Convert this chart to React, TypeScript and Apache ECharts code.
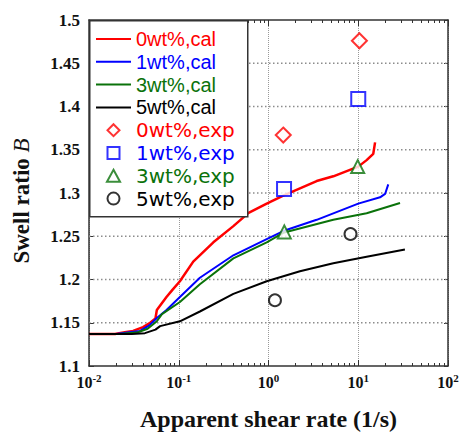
import React, { useEffect, useRef } from "react";
import * as echarts from "echarts";

// ---- data ----
const rate0Cal = [0.01, 0.0195, 0.025, 0.031, 0.04, 0.048, 0.055, 0.057, 0.073, 0.085, 0.103, 0.145, 0.243, 0.406, 0.6, 0.955, 1.46, 3.44, 5.27, 10.0, 12.4, 14.7, 15.4];
const swell0Cal = [1.137, 1.137, 1.139, 1.1406, 1.145, 1.15, 1.155, 1.1648, 1.1797, 1.188, 1.198, 1.2207, 1.243, 1.2617, 1.277, 1.2877, 1.297, 1.3138, 1.3193, 1.3305, 1.338, 1.3453, 1.3585];

const rate1Cal = [0.01, 0.02, 0.028, 0.037, 0.047, 0.057, 0.073, 0.103, 0.172, 0.406, 0.955, 1.46, 3.44, 10.0, 17.5, 19.9, 21.6];
const swell1Cal = [1.137, 1.137, 1.139, 1.1406, 1.147, 1.1555, 1.1648, 1.1797, 1.202, 1.228, 1.2467, 1.256, 1.269, 1.2877, 1.295, 1.2989, 1.31];

const rate3Cal = [0.01, 0.022, 0.035, 0.045, 0.057, 0.065, 0.103, 0.172, 0.406, 0.955, 1.46, 5.27, 12.4, 29.2];
const swell3Cal = [1.137, 1.137, 1.139, 1.143, 1.1517, 1.16, 1.174, 1.1946, 1.2244, 1.243, 1.254, 1.269, 1.2765, 1.2885];

const rate5Cal = [0.01, 0.03, 0.042, 0.055, 0.062, 0.103, 0.172, 0.406, 0.955, 2.24, 5.27, 12.4, 33.1];
const swell5Cal = [1.137, 1.137, 1.138, 1.142, 1.1461, 1.1517, 1.163, 1.1834, 1.198, 1.2095, 1.2188, 1.2263, 1.2348];

const rate0Exp = [1.46, 10.3];
const swell0Exp = [1.367, 1.476];
const rate1Exp = [1.49, 10.0];
const swell1Exp = [1.3045, 1.4087];
const rate3Exp = [1.5, 9.86];
const swell3Exp = [1.255, 1.3305];
const rate5Exp = [1.18, 8.2];
const swell5Exp = [1.176, 1.2526];

const seriesNames = ["0wt%,cal", "1wt%,cal", "3wt%,cal", "5wt%,cal", "0wt%,exp", "1wt%,exp", "3wt%,exp", "5wt%,exp"];
const xMajorTicks = [0.01, 0.1, 1, 10, 100];
const xMinorTicks = [0.02, 0.03, 0.04, 0.05, 0.06, 0.07, 0.08, 0.09, 0.2, 0.3, 0.4, 0.5, 0.6, 0.7, 0.8, 0.9, 2, 3, 4, 5, 6, 7, 8, 9, 20, 30, 40, 50, 60, 70, 80, 90];
const yGridValues = [1.15, 1.2, 1.25, 1.3, 1.35, 1.4, 1.45];

const RED = "#ff0000";
const BLUE = "#0000ff";
const GREEN = "#0a720a";
const BLACK = "#000000";

const zip = (xs: number[], ys: number[]) => xs.map((x, i) => [x, ys[i]]);

const SERIF = "'Liberation Serif', 'Times New Roman', serif";
const AXIS_COLOR = "#333";

export default function App() {
  const ref = useRef<HTMLDivElement>(null);
  useEffect(() => {
    if (!ref.current) return;
    const chart = echarts.init(ref.current, undefined, { renderer: "svg" });

    const baseX = {
      type: "log" as const,
      logBase: 10,
      min: 0.01,
      max: 100,
      axisLabel: { show: false },
      splitLine: { show: false },
      axisLine: { show: false },
    };

    const lineSeries = (name: string, xs: number[], ys: number[], color: string, width: number) => ({
      name,
      type: "line",
      data: zip(xs, ys),
      symbol: "none",
      smooth: false,
      lineStyle: { color, width },
      itemStyle: { color },
      z: 3,
    });
    const scatterSeries = (name: string, xs: number[], ys: number[], color: string, symbol: string, size: number) => ({
      name,
      type: "scatter",
      data: zip(xs, ys),
      symbol,
      symbolSize: size,
      itemStyle: { color: "#ffffff", borderColor: color, borderWidth: 2 },
      z: 4,
    });

    const calFont = { fontFamily: "'Liberation Sans', Arial, sans-serif", fontSize: 20 };
    const expFont = { fontFamily: "'DejaVu Sans', sans-serif", fontSize: 20 };
    const colors = [RED, BLUE, GREEN, BLACK, RED, BLUE, GREEN, BLACK];
    const LINE_ICON = "path://M0,0H35V2H0Z";
    const icons = [
      LINE_ICON,
      LINE_ICON,
      LINE_ICON,
      LINE_ICON,
      "path://M6,0L12,6L6,12L0,6Z",
      "path://M0,0H12V12H0Z",
      "path://M6,0L12,11H0Z",
      "path://M0,6A6,6,0,1,1,12,6A6,6,0,1,1,0,6Z",
    ];

    chart.setOption({
      animation: false,
      backgroundColor: "#ffffff",
      grid: { left: 89, right: 14, top: 20, bottom: 58 },
      graphic: [
        {
          type: "rect",
          z: 5,
          silent: true,
          shape: { x: 89.75, y: 20.75, width: 158, height: 196 },
          style: { fill: "#ffffff", stroke: "#333333", lineWidth: 1.5 },
        },
      ],
      legend: {
        orient: "vertical",
        left: 89,
        top: 20,
        z: 6,
        padding: [8, 10, 6, 7],
        itemWidth: 35,
        itemHeight: 12,
        itemGap: 0.8,
        textStyle: { lineHeight: 22 },
        data: seriesNames.map((n, i) => ({
          name: n,
          icon: icons[i],
          textStyle: { color: colors[i], ...(i < 4 ? calFont : expFont), lineHeight: 22 },
        })),
      },
      xAxis: [
        {
          ...baseX,
          position: "bottom",
          axisLine: { show: true, lineStyle: { color: AXIS_COLOR, width: 1.5 } },
          axisTick: { show: true, inside: true, length: 6, lineStyle: { color: AXIS_COLOR }, customValues: xMajorTicks },
          splitLine: { show: true, lineStyle: { color: "#999999", type: "dotted", width: 1 } },
          axisLabel: {
            show: true,
            margin: 6,
            customValues: xMajorTicks,
            formatter: (v: number) => `{b|10}{s|${Math.round(Math.log10(v))}}`,
            rich: {
              b: { fontFamily: SERIF, fontWeight: "bold", fontSize: 16, color: "#111", lineHeight: 18, verticalAlign: "bottom" },
              s: { fontFamily: SERIF, fontWeight: "bold", fontSize: 11, color: "#111", lineHeight: 11, verticalAlign: "top" },
            },
          },
          name: "Apparent shear rate (1/s)",
          nameLocation: "middle",
          nameGap: 41,
          nameTextStyle: { fontFamily: SERIF, fontWeight: "bold", fontSize: 24, color: "#111" },
        },
        {
          ...baseX,
          position: "bottom",
          axisTick: { show: true, inside: true, length: 3, lineStyle: { color: AXIS_COLOR }, customValues: xMinorTicks },
        },
        {
          ...baseX,
          position: "top",
          axisLine: { show: true, lineStyle: { color: AXIS_COLOR, width: 1.5 } },
          axisTick: { show: true, inside: true, length: 6, lineStyle: { color: AXIS_COLOR }, customValues: xMajorTicks },
        },
        {
          ...baseX,
          position: "top",
          axisTick: { show: true, inside: true, length: 3, lineStyle: { color: AXIS_COLOR }, customValues: xMinorTicks },
        },
      ],
      yAxis: [
        {
          type: "value",
          position: "left",
          min: 1.1,
          max: 1.5,
          interval: 0.05,
          axisLine: { show: true, lineStyle: { color: AXIS_COLOR, width: 1.5 } },
          axisTick: { show: true, inside: true, length: 5, lineStyle: { color: AXIS_COLOR } },
          splitLine: { show: false },
          axisLabel: {
            margin: 9,
            fontFamily: SERIF,
            fontWeight: "bold",
            fontSize: 17,
            color: "#111",
            formatter: (v: number) => String(Math.round(v * 100) / 100),
          },
          name: "{a|Swell ratio }{b|B}",
          nameLocation: "middle",
          nameGap: 56,
          nameTextStyle: {
            padding: [0, 16, 0, 0],
            rich: {
              a: { fontFamily: SERIF, fontWeight: "bold", fontSize: 23, color: "#111" },
              b: { fontFamily: SERIF, fontStyle: "italic", fontWeight: "normal", fontSize: 23, color: "#111" },
            },
          },
        },
        {
          type: "value",
          position: "right",
          min: 1.1,
          max: 1.5,
          interval: 0.05,
          axisLine: { show: true, lineStyle: { color: AXIS_COLOR, width: 1.5 } },
          axisTick: { show: true, inside: true, length: 4, lineStyle: { color: AXIS_COLOR } },
          splitLine: { show: false },
          axisLabel: { show: false },
        },
      ],
      series: [
        {
          name: "hgrid",
          type: "custom",
          coordinateSystem: "cartesian2d",
          xAxisIndex: 0,
          yAxisIndex: 0,
          silent: true,
          z: 2,
          data: yGridValues.map((v) => [1, v]),
          encode: { x: 0, y: 1 },
          renderItem: (params: any, api: any) => {
            const cs = params.coordSys;
            const y = api.coord([1, api.value(1)])[1];
            return {
              type: "line",
              silent: true,
              shape: { x1: cs.x, y1: y, x2: cs.x + cs.width, y2: y },
              style: { stroke: "#8c8c8c", lineWidth: 1.3, lineDash: [1.5, 2.5] },
            };
          },
        },
        lineSeries(seriesNames[0], rate0Cal, swell0Cal, RED, 2.5),
        lineSeries(seriesNames[1], rate1Cal, swell1Cal, BLUE, 2),
        lineSeries(seriesNames[2], rate3Cal, swell3Cal, GREEN, 2),
        lineSeries(seriesNames[3], rate5Cal, swell5Cal, BLACK, 2),
        scatterSeries(seriesNames[4], rate0Exp, swell0Exp, RED, "diamond", 15),
        scatterSeries(seriesNames[5], rate1Exp, swell1Exp, BLUE, "rect", 14),
        scatterSeries(seriesNames[6], rate3Exp, swell3Exp, GREEN, "triangle", 13),
        scatterSeries(seriesNames[7], rate5Exp, swell5Exp, BLACK, "circle", 12),
      ],
    });
    return () => chart.dispose();
  }, []);

  return <div ref={ref} style={{ position: "fixed", left: 0, top: 0, width: 462, height: 436 }} />;
}
